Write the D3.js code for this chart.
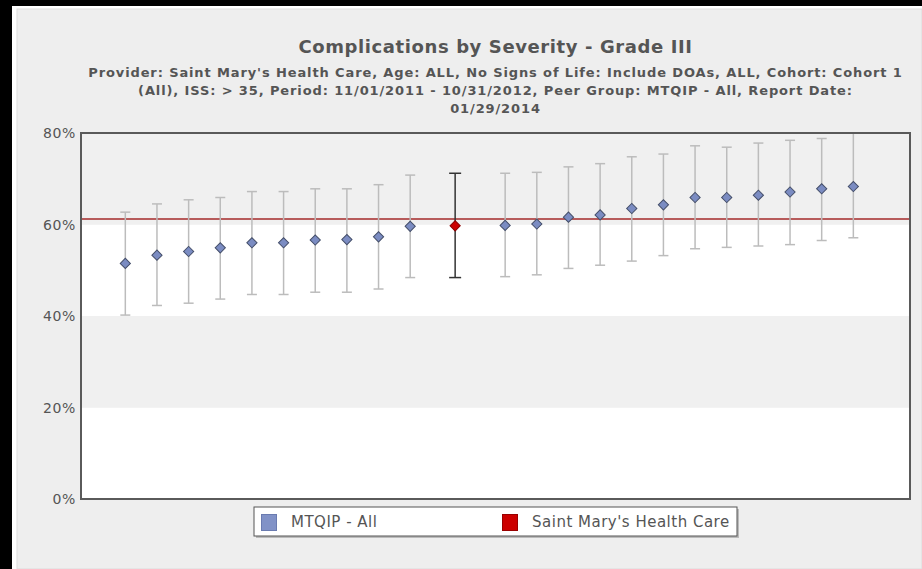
<!DOCTYPE html>
<html>
<head>
<meta charset="utf-8">
<script src="https://cdn.jsdelivr.net/npm/d3@7"></script>
<style>
  body { margin: 0; background: #000; }
  #chart { width: 922px; height: 569px; }
  text { font-family: "DejaVu Sans", Verdana, sans-serif; }
</style>
</head>
<body>
<div id="chart"></div>
<script>
// peer group providers, sorted by rate (x rank position)
let peerRank = [0, 1, 2, 3, 4, 5, 6, 7, 8, 9, 12, 13, 14, 15, 16, 17, 18, 19, 20, 21, 22, 23];
let peerRate = [51.5, 53.3, 54.1, 54.9, 56.0, 56.0, 56.6, 56.7, 57.3, 59.6,
                59.8, 60.1, 61.6, 62.1, 63.5, 64.3, 65.9, 65.9, 66.4, 67.1, 67.8, 68.3];
let peerLow  = [40.2, 42.3, 42.8, 43.7, 44.7, 44.7, 45.2, 45.2, 45.9, 48.4,
                48.6, 49.0, 50.4, 51.1, 52.0, 53.2, 54.7, 55.0, 55.3, 55.6, 56.5, 57.1];
let peerHigh = [62.7, 64.5, 65.4, 65.9, 67.2, 67.2, 67.8, 67.8, 68.7, 70.8,
                71.2, 71.4, 72.6, 73.3, 74.8, 75.4, 77.2, 76.9, 77.8, 78.4, 78.8, 81.0];

// the selected provider
let siteRank = 10.42;
let siteRate = 59.7;
let siteLow = 48.4;
let siteHigh = 71.2;

let peerAverage = 61.2;
let yTicks = [0, 20, 40, 60, 80];

let titleText = "Complications by Severity - Grade III";
let subtitleLines = [
    "Provider: Saint Mary's Health Care, Age: ALL, No Signs of Life: Include DOAs, ALL, Cohort: Cohort 1",
    "(All), ISS: > 35, Period: 11/01/2011 - 10/31/2012, Peer Group: MTQIP - All, Report Date:",
    "01/29/2014"
];
let legendItems = ["MTQIP - All", "Saint Mary's Health Care"];

let W = 922, H = 569;
let plot = {left: 81, right: 910, top: 133, bottom: 499};

let svg = d3.select("#chart").append("svg")
    .attr("width", W)
    .attr("height", H);

// background with black frame top / left
svg.append("rect").attr("width", W).attr("height", H).attr("fill", "#000");
svg.append("rect").attr("x", 12).attr("y", 6).attr("width", W - 12).attr("height", H - 6).attr("fill", "#fff");
svg.append("rect").attr("x", 17).attr("y", 9).attr("width", W - 17).attr("height", H - 9)
    .attr("fill", "#eeeeee").attr("stroke", "#dddddd").attr("stroke-width", 1);

let x = d3.scaleLinear()
    .domain([-1.4, 24.79])
    .range([plot.left, plot.right]);

let y = d3.scaleLinear()
    .domain([0, 80])
    .range([plot.bottom, plot.top]);

// alternating bands
let bands = d3.pairs(yTicks);
svg.append("g").selectAll("rect")
    .data(bands)
    .enter()
    .append("rect")
    .attr("x", plot.left)
    .attr("width", plot.right - plot.left)
    .attr("y", d => y(d[1]))
    .attr("height", d => y(d[0]) - y(d[1]))
    .attr("fill", (d, i) => i % 2 ? "#f0f0f0" : "#ffffff");

// clip for the marks
svg.append("clipPath").attr("id", "plotclip")
    .append("rect")
    .attr("x", plot.left).attr("y", plot.top)
    .attr("width", plot.right - plot.left).attr("height", plot.bottom - plot.top);

let marks = svg.append("g").attr("clip-path", "url(#plotclip)");

// peer average line
marks.append("line")
    .attr("x1", plot.left).attr("x2", plot.right)
    .attr("y1", y(peerAverage)).attr("y2", y(peerAverage))
    .attr("stroke", "#a52a2a")
    .attr("stroke-width", 1.5);

let peers = peerRank.map((r, i) => ({rank: r, rate: peerRate[i], low: peerLow[i], high: peerHigh[i]}));

function drawBars(g, data, color, cap, width) {
    g.selectAll(null).data(data).enter().append("line")
        .attr("x1", d => x(d.rank)).attr("x2", d => x(d.rank))
        .attr("y1", d => y(d.low)).attr("y2", d => y(d.high))
        .attr("stroke", color).attr("stroke-width", width);
    g.selectAll(null).data(data).enter().append("line")
        .attr("x1", d => x(d.rank) - cap).attr("x2", d => x(d.rank) + cap)
        .attr("y1", d => y(d.low)).attr("y2", d => y(d.low))
        .attr("stroke", color).attr("stroke-width", width);
    g.selectAll(null).data(data).enter().append("line")
        .attr("x1", d => x(d.rank) - cap).attr("x2", d => x(d.rank) + cap)
        .attr("y1", d => y(d.high)).attr("y2", d => y(d.high))
        .attr("stroke", color).attr("stroke-width", width);
}

let diamond = d3.symbol().type(d3.symbolSquare).size(52);

function drawPoints(g, data, fill, stroke) {
    g.selectAll(null).data(data).enter().append("path")
        .attr("d", diamond)
        .attr("transform", d => `translate(${x(d.rank)},${y(d.rate)}) rotate(45)`)
        .attr("fill", fill)
        .attr("stroke", stroke)
        .attr("stroke-width", 1);
}

let site = [{rank: siteRank, rate: siteRate, low: siteLow, high: siteHigh}];

drawBars(marks.append("g"), peers, "#bcbcbc", 5, 1.5);
drawBars(marks.append("g"), site, "#333333", 6, 1.5);
drawPoints(marks.append("g"), peers, "#7b8cc2", "#454f6a");
drawPoints(marks.append("g"), site, "#cc0000", "#8a0000");

// frame
svg.append("rect")
    .attr("x", plot.left).attr("y", plot.top)
    .attr("width", plot.right - plot.left).attr("height", plot.bottom - plot.top)
    .attr("fill", "none")
    .attr("stroke", "#5a5a5a")
    .attr("stroke-width", 2);

// y axis labels
svg.append("g").selectAll("text")
    .data(yTicks)
    .enter()
    .append("text")
    .attr("x", plot.left - 5)
    .attr("y", d => y(d))
    .attr("dy", "0.38em")
    .attr("text-anchor", "end")
    .style("font-size", "14px")
    .style("letter-spacing", "0.6px")
    .attr("fill", "#555")
    .text(d => d + "%");

// titles
let cx = (plot.left + plot.right) / 2;
svg.append("text")
    .attr("x", cx).attr("y", 53)
    .attr("text-anchor", "middle")
    .style("font-size", "18px")
    .style("font-weight", "bold")
    .style("letter-spacing", "0.6px")
    .attr("fill", "#555")
    .text(titleText);

svg.append("g").selectAll("text")
    .data(subtitleLines)
    .enter()
    .append("text")
    .attr("x", cx)
    .attr("y", (d, i) => 77 + i * 18)
    .attr("text-anchor", "middle")
    .style("font-size", "13px")
    .style("font-weight", "bold")
    .style("letter-spacing", "0.88px")
    .attr("fill", "#555")
    .text(d => d);

// legend
let legend = svg.append("g").attr("transform", "translate(254,507)");
legend.append("rect")
    .attr("x", 2).attr("y", 2).attr("width", 483).attr("height", 29)
    .attr("fill", "#999").attr("opacity", 0.6);
legend.append("rect")
    .attr("width", 483).attr("height", 29)
    .attr("fill", "#fff").attr("stroke", "#555").attr("stroke-width", 1);

let legendColors = [["#8192c7", "#6a7bb0"], ["#cc0000", "#990000"]];
let legendX = [7, 248];
legendItems.forEach((t, i) => {
    legend.append("rect")
        .attr("x", legendX[i] + 0.5).attr("y", 7.5)
        .attr("width", 15).attr("height", 16)
        .attr("fill", legendColors[i][0]).attr("stroke", legendColors[i][1]);
    legend.append("text")
        .attr("x", legendX[i] + 30).attr("y", 15)
        .attr("dy", "0.35em")
        .style("font-size", "15px")
        .style("letter-spacing", "0.5px")
        .attr("fill", "#555")
        .text(t);
});
</script>
</body>
</html>
